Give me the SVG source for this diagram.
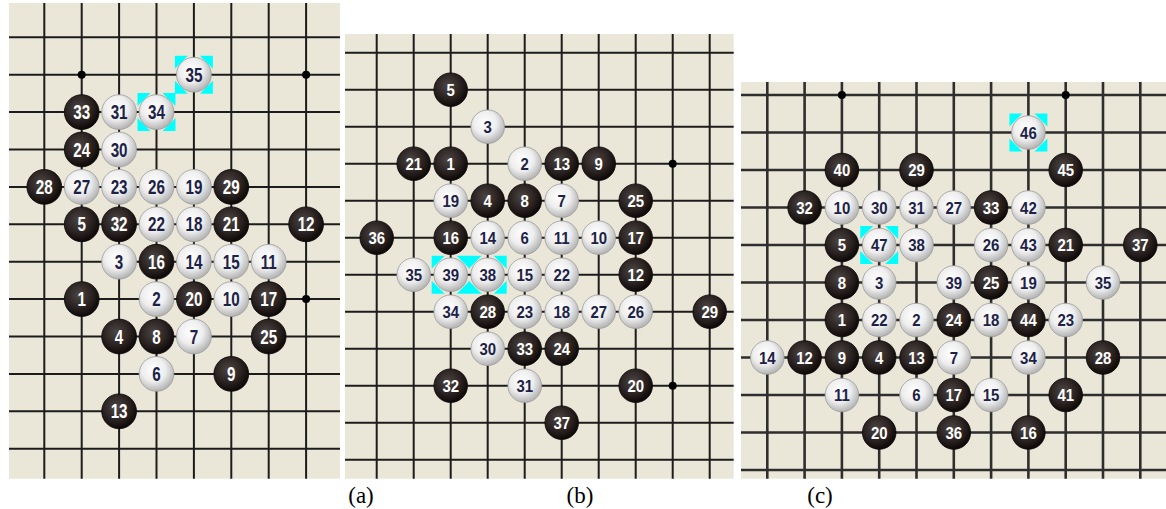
<svg xmlns="http://www.w3.org/2000/svg" xmlns:xlink="http://www.w3.org/1999/xlink" width="1166" height="509" viewBox="0 0 1166 509">
<defs>
<style>
.bd{fill:#ebe7d8}
.ga{stroke:#1c1c1c;stroke-width:2;fill:none}
.gc{stroke:#2e2e2e;stroke-width:2.6;fill:none}
.st{fill:#000}
.t{font-family:"Liberation Sans",Arial,sans-serif;font-weight:bold;text-anchor:middle}
.A{font-size:19.5px;transform:scale(0.78,1)}
.B{font-size:17px;transform:scale(0.88,1)}
.w{fill:#ffffff}
.k{fill:#1c2246}
.lb{font-family:"Liberation Serif","Times New Roman",serif;font-size:23px;fill:#000;text-anchor:middle}
</style>
<radialGradient id="gW" cx="0.42" cy="0.38" r="0.62">
<stop offset="0" stop-color="#ffffff"/><stop offset="0.55" stop-color="#eeeeee"/><stop offset="1" stop-color="#b4b4b4"/>
</radialGradient>
<radialGradient id="gB" cx="0.42" cy="0.38" r="0.62">
<stop offset="0" stop-color="#4e4643"/><stop offset="0.6" stop-color="#2a2321"/><stop offset="1" stop-color="#0d0908"/>
</radialGradient>
<circle id="wa" r="17.4" fill="url(#gW)" stroke="#9c9c9c" stroke-width="0.8"/>
<circle id="ba" r="17.4" fill="url(#gB)" stroke="#0a0808" stroke-width="0.8"/>
<circle id="wb" r="16.8" fill="url(#gW)" stroke="#9c9c9c" stroke-width="0.8"/>
<circle id="bb" r="16.8" fill="url(#gB)" stroke="#0a0808" stroke-width="0.8"/>
<path id="mk" fill="#00ffff" d="M-19,-19h13l-13,13z M19,-19h-13l13,13z M-19,19h13l-13,-13z M19,19h-13l13,-13z"/>
</defs>

<g id="board-a">
<rect class="bd" x="9" y="3" width="331" height="475.7"/>
<path class="ga" d="M44.3 3V478.7M81.7 3V478.7M119.1 3V478.7M156.5 3V478.7M193.9 3V478.7M231.3 3V478.7M268.7 3V478.7M306.1 3V478.7M9 37.3H340M9 74.7H340M9 112.1H340M9 149.5H340M9 186.9H340M9 224.3H340M9 261.7H340M9 299.1H340M9 336.5H340M9 373.9H340M9 411.3H340M9 448.7H340"/>
<circle class="st" cx="81.7" cy="74.7" r="4"/><circle class="st" cx="306.1" cy="74.7" r="4"/><circle class="st" cx="306.1" cy="299.1" r="4"/>
</g>
<g id="stones-a">
<g id="a35" transform="translate(193.9,74.7)"><use href="#mk"/><use href="#wa"/><text class="t A k" y="7">35</text></g>
<g id="a33" transform="translate(81.7,112.1)"><use href="#ba"/><text class="t A w" y="7">33</text></g>
<g id="a31" transform="translate(119.1,112.1)"><use href="#wa"/><text class="t A k" y="7">31</text></g>
<g id="a34" transform="translate(156.5,112.1)"><use href="#mk"/><use href="#wa"/><text class="t A k" y="7">34</text></g>
<g id="a24" transform="translate(81.7,149.5)"><use href="#ba"/><text class="t A w" y="7">24</text></g>
<g id="a30" transform="translate(119.1,149.5)"><use href="#wa"/><text class="t A k" y="7">30</text></g>
<g id="a28" transform="translate(44.3,186.9)"><use href="#ba"/><text class="t A w" y="7">28</text></g>
<g id="a27" transform="translate(81.7,186.9)"><use href="#wa"/><text class="t A k" y="7">27</text></g>
<g id="a23" transform="translate(119.1,186.9)"><use href="#wa"/><text class="t A k" y="7">23</text></g>
<g id="a26" transform="translate(156.5,186.9)"><use href="#wa"/><text class="t A k" y="7">26</text></g>
<g id="a19" transform="translate(193.9,186.9)"><use href="#wa"/><text class="t A k" y="7">19</text></g>
<g id="a29" transform="translate(231.3,186.9)"><use href="#ba"/><text class="t A w" y="7">29</text></g>
<g id="a5" transform="translate(81.7,224.3)"><use href="#ba"/><text class="t A w" y="7">5</text></g>
<g id="a32" transform="translate(119.1,224.3)"><use href="#ba"/><text class="t A w" y="7">32</text></g>
<g id="a22" transform="translate(156.5,224.3)"><use href="#wa"/><text class="t A k" y="7">22</text></g>
<g id="a18" transform="translate(193.9,224.3)"><use href="#wa"/><text class="t A k" y="7">18</text></g>
<g id="a21" transform="translate(231.3,224.3)"><use href="#ba"/><text class="t A w" y="7">21</text></g>
<g id="a12" transform="translate(306.1,224.3)"><use href="#ba"/><text class="t A w" y="7">12</text></g>
<g id="a3" transform="translate(119.1,261.7)"><use href="#wa"/><text class="t A k" y="7">3</text></g>
<g id="a16" transform="translate(156.5,261.7)"><use href="#ba"/><text class="t A w" y="7">16</text></g>
<g id="a14" transform="translate(193.9,261.7)"><use href="#wa"/><text class="t A k" y="7">14</text></g>
<g id="a15" transform="translate(231.3,261.7)"><use href="#wa"/><text class="t A k" y="7">15</text></g>
<g id="a11" transform="translate(268.7,261.7)"><use href="#wa"/><text class="t A k" y="7">11</text></g>
<g id="a1" transform="translate(81.7,299.1)"><use href="#ba"/><text class="t A w" y="7">1</text></g>
<g id="a2" transform="translate(156.5,299.1)"><use href="#wa"/><text class="t A k" y="7">2</text></g>
<g id="a20" transform="translate(193.9,299.1)"><use href="#ba"/><text class="t A w" y="7">20</text></g>
<g id="a10" transform="translate(231.3,299.1)"><use href="#wa"/><text class="t A k" y="7">10</text></g>
<g id="a17" transform="translate(268.7,299.1)"><use href="#ba"/><text class="t A w" y="7">17</text></g>
<g id="a4" transform="translate(119.1,336.5)"><use href="#ba"/><text class="t A w" y="7">4</text></g>
<g id="a8" transform="translate(156.5,336.5)"><use href="#ba"/><text class="t A w" y="7">8</text></g>
<g id="a7" transform="translate(193.9,336.5)"><use href="#wa"/><text class="t A k" y="7">7</text></g>
<g id="a25" transform="translate(268.7,336.5)"><use href="#ba"/><text class="t A w" y="7">25</text></g>
<g id="a6" transform="translate(156.5,373.9)"><use href="#wa"/><text class="t A k" y="7">6</text></g>
<g id="a9" transform="translate(231.3,373.9)"><use href="#ba"/><text class="t A w" y="7">9</text></g>
<g id="a13" transform="translate(119.1,411.3)"><use href="#ba"/><text class="t A w" y="7">13</text></g>
</g>

<g id="board-b">
<rect class="bd" x="345" y="34" width="388.7" height="444.7"/>
<path class="ga" d="M376.7 34V478.7M413.7 34V478.7M450.7 34V478.7M487.7 34V478.7M524.7 34V478.7M561.7 34V478.7M598.7 34V478.7M635.7 34V478.7M672.7 34V478.7M709.7 34V478.7M345 52.7H733.7M345 89.7H733.7M345 126.7H733.7M345 163.7H733.7M345 200.7H733.7M345 237.7H733.7M345 274.7H733.7M345 311.7H733.7M345 348.7H733.7M345 385.7H733.7M345 422.7H733.7M345 459.7H733.7"/>
<circle class="st" cx="672.7" cy="163.7" r="4"/><circle class="st" cx="672.7" cy="385.7" r="4"/>
</g>
<g id="stones-b">
<g id="b5" transform="translate(450.7,89.7)"><use href="#bb"/><text class="t B w" y="6">5</text></g>
<g id="b3" transform="translate(487.7,126.7)"><use href="#wb"/><text class="t B k" y="6">3</text></g>
<g id="b21" transform="translate(413.7,163.7)"><use href="#bb"/><text class="t B w" y="6">21</text></g>
<g id="b1" transform="translate(450.7,163.7)"><use href="#bb"/><text class="t B w" y="6">1</text></g>
<g id="b2" transform="translate(524.7,163.7)"><use href="#wb"/><text class="t B k" y="6">2</text></g>
<g id="b13" transform="translate(561.7,163.7)"><use href="#bb"/><text class="t B w" y="6">13</text></g>
<g id="b9" transform="translate(598.7,163.7)"><use href="#bb"/><text class="t B w" y="6">9</text></g>
<g id="b19" transform="translate(450.7,200.7)"><use href="#wb"/><text class="t B k" y="6">19</text></g>
<g id="b4" transform="translate(487.7,200.7)"><use href="#bb"/><text class="t B w" y="6">4</text></g>
<g id="b8" transform="translate(524.7,200.7)"><use href="#bb"/><text class="t B w" y="6">8</text></g>
<g id="b7" transform="translate(561.7,200.7)"><use href="#wb"/><text class="t B k" y="6">7</text></g>
<g id="b25" transform="translate(635.7,200.7)"><use href="#bb"/><text class="t B w" y="6">25</text></g>
<g id="b36" transform="translate(376.7,237.7)"><use href="#bb"/><text class="t B w" y="6">36</text></g>
<g id="b16" transform="translate(450.7,237.7)"><use href="#bb"/><text class="t B w" y="6">16</text></g>
<g id="b14" transform="translate(487.7,237.7)"><use href="#wb"/><text class="t B k" y="6">14</text></g>
<g id="b6" transform="translate(524.7,237.7)"><use href="#wb"/><text class="t B k" y="6">6</text></g>
<g id="b11" transform="translate(561.7,237.7)"><use href="#wb"/><text class="t B k" y="6">11</text></g>
<g id="b10" transform="translate(598.7,237.7)"><use href="#wb"/><text class="t B k" y="6">10</text></g>
<g id="b17" transform="translate(635.7,237.7)"><use href="#bb"/><text class="t B w" y="6">17</text></g>
<g id="b35" transform="translate(413.7,274.7)"><use href="#wb"/><text class="t B k" y="6">35</text></g>
<g id="b39" transform="translate(450.7,274.7)"><use href="#mk"/><use href="#wb"/><text class="t B k" y="6">39</text></g>
<g id="b38" transform="translate(487.7,274.7)"><use href="#mk"/><use href="#wb"/><text class="t B k" y="6">38</text></g>
<g id="b15" transform="translate(524.7,274.7)"><use href="#wb"/><text class="t B k" y="6">15</text></g>
<g id="b22" transform="translate(561.7,274.7)"><use href="#wb"/><text class="t B k" y="6">22</text></g>
<g id="b12" transform="translate(635.7,274.7)"><use href="#bb"/><text class="t B w" y="6">12</text></g>
<g id="b34" transform="translate(450.7,311.7)"><use href="#wb"/><text class="t B k" y="6">34</text></g>
<g id="b28" transform="translate(487.7,311.7)"><use href="#bb"/><text class="t B w" y="6">28</text></g>
<g id="b23" transform="translate(524.7,311.7)"><use href="#wb"/><text class="t B k" y="6">23</text></g>
<g id="b18" transform="translate(561.7,311.7)"><use href="#wb"/><text class="t B k" y="6">18</text></g>
<g id="b27" transform="translate(598.7,311.7)"><use href="#wb"/><text class="t B k" y="6">27</text></g>
<g id="b26" transform="translate(635.7,311.7)"><use href="#wb"/><text class="t B k" y="6">26</text></g>
<g id="b29" transform="translate(709.7,311.7)"><use href="#bb"/><text class="t B w" y="6">29</text></g>
<g id="b30" transform="translate(487.7,348.7)"><use href="#wb"/><text class="t B k" y="6">30</text></g>
<g id="b33" transform="translate(524.7,348.7)"><use href="#bb"/><text class="t B w" y="6">33</text></g>
<g id="b24" transform="translate(561.7,348.7)"><use href="#bb"/><text class="t B w" y="6">24</text></g>
<g id="b32" transform="translate(450.7,385.7)"><use href="#bb"/><text class="t B w" y="6">32</text></g>
<g id="b31" transform="translate(524.7,385.7)"><use href="#wb"/><text class="t B k" y="6">31</text></g>
<g id="b20" transform="translate(635.7,385.7)"><use href="#bb"/><text class="t B w" y="6">20</text></g>
<g id="b37" transform="translate(561.7,422.7)"><use href="#bb"/><text class="t B w" y="6">37</text></g>
</g>

<g id="board-c">
<rect class="bd" x="741" y="82" width="425" height="396.7"/>
<path class="gc" d="M767.3 82V478.7M804.6 82V478.7M841.9 82V478.7M879.2 82V478.7M916.5 82V478.7M953.8 82V478.7M991.1 82V478.7M1028.4 82V478.7M1065.7 82V478.7M1103 82V478.7M1140.3 82V478.7M741 95H1166M741 132.5H1166M741 170H1166M741 207.5H1166M741 245H1166M741 282.5H1166M741 320H1166M741 357.5H1166M741 395H1166M741 432.5H1166M741 470H1166"/>
<circle class="st" cx="841.9" cy="95" r="4"/><circle class="st" cx="1065.7" cy="95" r="4"/>
</g>
<g id="stones-c">
<g id="c46" transform="translate(1028.4,132.5)"><use href="#mk"/><use href="#wb"/><text class="t B k" y="6">46</text></g>
<g id="c40" transform="translate(841.9,170)"><use href="#bb"/><text class="t B w" y="6">40</text></g>
<g id="c29" transform="translate(916.5,170)"><use href="#bb"/><text class="t B w" y="6">29</text></g>
<g id="c45" transform="translate(1065.7,170)"><use href="#bb"/><text class="t B w" y="6">45</text></g>
<g id="c32" transform="translate(804.6,207.5)"><use href="#bb"/><text class="t B w" y="6">32</text></g>
<g id="c10" transform="translate(841.9,207.5)"><use href="#wb"/><text class="t B k" y="6">10</text></g>
<g id="c30" transform="translate(879.2,207.5)"><use href="#wb"/><text class="t B k" y="6">30</text></g>
<g id="c31" transform="translate(916.5,207.5)"><use href="#wb"/><text class="t B k" y="6">31</text></g>
<g id="c27" transform="translate(953.8,207.5)"><use href="#wb"/><text class="t B k" y="6">27</text></g>
<g id="c33" transform="translate(991.1,207.5)"><use href="#bb"/><text class="t B w" y="6">33</text></g>
<g id="c42" transform="translate(1028.4,207.5)"><use href="#wb"/><text class="t B k" y="6">42</text></g>
<g id="c5" transform="translate(841.9,245)"><use href="#bb"/><text class="t B w" y="6">5</text></g>
<g id="c47" transform="translate(879.2,245)"><use href="#mk"/><use href="#wb"/><text class="t B k" y="6">47</text></g>
<g id="c38" transform="translate(916.5,245)"><use href="#wb"/><text class="t B k" y="6">38</text></g>
<g id="c26" transform="translate(991.1,245)"><use href="#wb"/><text class="t B k" y="6">26</text></g>
<g id="c43" transform="translate(1028.4,245)"><use href="#wb"/><text class="t B k" y="6">43</text></g>
<g id="c21" transform="translate(1065.7,245)"><use href="#bb"/><text class="t B w" y="6">21</text></g>
<g id="c37" transform="translate(1140.3,245)"><use href="#bb"/><text class="t B w" y="6">37</text></g>
<g id="c8" transform="translate(841.9,282.5)"><use href="#bb"/><text class="t B w" y="6">8</text></g>
<g id="c3" transform="translate(879.2,282.5)"><use href="#wb"/><text class="t B k" y="6">3</text></g>
<g id="c39" transform="translate(953.8,282.5)"><use href="#wb"/><text class="t B k" y="6">39</text></g>
<g id="c25" transform="translate(991.1,282.5)"><use href="#bb"/><text class="t B w" y="6">25</text></g>
<g id="c19" transform="translate(1028.4,282.5)"><use href="#wb"/><text class="t B k" y="6">19</text></g>
<g id="c35" transform="translate(1103,282.5)"><use href="#wb"/><text class="t B k" y="6">35</text></g>
<g id="c1" transform="translate(841.9,320)"><use href="#bb"/><text class="t B w" y="6">1</text></g>
<g id="c22" transform="translate(879.2,320)"><use href="#wb"/><text class="t B k" y="6">22</text></g>
<g id="c2" transform="translate(916.5,320)"><use href="#wb"/><text class="t B k" y="6">2</text></g>
<g id="c24" transform="translate(953.8,320)"><use href="#bb"/><text class="t B w" y="6">24</text></g>
<g id="c18" transform="translate(991.1,320)"><use href="#wb"/><text class="t B k" y="6">18</text></g>
<g id="c44" transform="translate(1028.4,320)"><use href="#bb"/><text class="t B w" y="6">44</text></g>
<g id="c23" transform="translate(1065.7,320)"><use href="#wb"/><text class="t B k" y="6">23</text></g>
<g id="c14" transform="translate(767.3,357.5)"><use href="#wb"/><text class="t B k" y="6">14</text></g>
<g id="c12" transform="translate(804.6,357.5)"><use href="#bb"/><text class="t B w" y="6">12</text></g>
<g id="c9" transform="translate(841.9,357.5)"><use href="#bb"/><text class="t B w" y="6">9</text></g>
<g id="c4" transform="translate(879.2,357.5)"><use href="#bb"/><text class="t B w" y="6">4</text></g>
<g id="c13" transform="translate(916.5,357.5)"><use href="#bb"/><text class="t B w" y="6">13</text></g>
<g id="c7" transform="translate(953.8,357.5)"><use href="#wb"/><text class="t B k" y="6">7</text></g>
<g id="c34" transform="translate(1028.4,357.5)"><use href="#wb"/><text class="t B k" y="6">34</text></g>
<g id="c28" transform="translate(1103,357.5)"><use href="#bb"/><text class="t B w" y="6">28</text></g>
<g id="c11" transform="translate(841.9,395)"><use href="#wb"/><text class="t B k" y="6">11</text></g>
<g id="c6" transform="translate(916.5,395)"><use href="#wb"/><text class="t B k" y="6">6</text></g>
<g id="c17" transform="translate(953.8,395)"><use href="#bb"/><text class="t B w" y="6">17</text></g>
<g id="c15" transform="translate(991.1,395)"><use href="#wb"/><text class="t B k" y="6">15</text></g>
<g id="c41" transform="translate(1065.7,395)"><use href="#bb"/><text class="t B w" y="6">41</text></g>
<g id="c20" transform="translate(879.2,432.5)"><use href="#bb"/><text class="t B w" y="6">20</text></g>
<g id="c36" transform="translate(953.8,432.5)"><use href="#bb"/><text class="t B w" y="6">36</text></g>
<g id="c16" transform="translate(1028.4,432.5)"><use href="#bb"/><text class="t B w" y="6">16</text></g>
</g>

<g id="connectors"></g>

<g id="labels">
<text class="lb" x="361" y="503">(a)</text>
<text class="lb" x="580" y="503">(b)</text>
<text class="lb" x="820" y="503">(c)</text>
</g>
</svg>
